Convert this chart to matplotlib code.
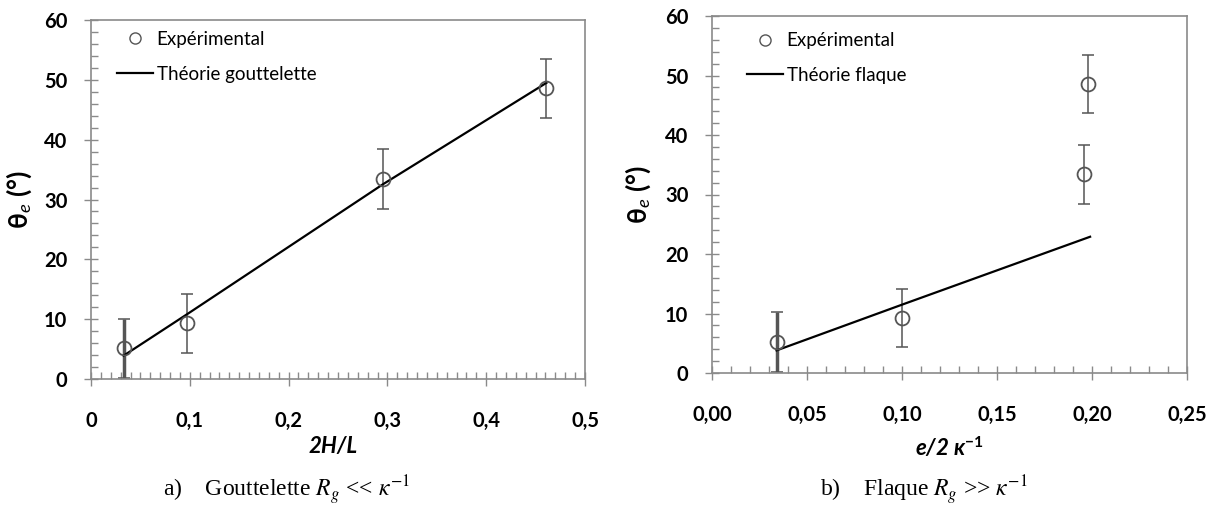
import matplotlib
matplotlib.use("Agg")
import matplotlib.pyplot as plt
from matplotlib.lines import Line2D
from matplotlib.ticker import MultipleLocator, FuncFormatter
import numpy as np

# données a) gouttelette
x_goutte = np.array([0.033, 0.097, 0.296, 0.461])
y_goutte = np.array([5.1, 9.3, 33.4, 48.6])
err_goutte = np.array([5.0, 4.9, 5.0, 4.9])
x_theo_goutte = np.array([0.033, 0.097, 0.296, 0.461])
y_theo_goutte = np.array([3.9, 10.8, 32.6, 49.5])

# données b) flaque
x_flaque = np.array([0.034, 0.100, 0.196, 0.198])
y_flaque = np.array([5.2, 9.3, 33.4, 48.6])
err_flaque = np.array([5.0, 4.9, 5.0, 4.9])
x_theo_flaque = np.array([0.034, 0.101, 0.199])
y_theo_flaque = np.array([3.8, 11.6, 22.9])

plt.rcParams['font.family'] = ['Lato', 'DejaVu Sans']
plt.rcParams['mathtext.fontset'] = 'custom'
plt.rcParams['mathtext.rm'] = 'Lato'
plt.rcParams['mathtext.it'] = 'Lato:italic'
plt.rcParams['mathtext.bf'] = 'Lato:bold'

W, H = 1217, 513
fig = plt.figure(figsize=(W / 100, H / 100), dpi=100)


def px_axes(l, t, r, b):
    return [l / W, 1 - b / H, (r - l) / W, (b - t) / H]


frame = '#8a8a8a'
mk = '#555555'


def style(ax, xmax, xmaj, xfmt):
    ax.set_xlim(0, xmax)
    ax.set_ylim(0, 60)
    ax.xaxis.set_major_locator(MultipleLocator(xmaj))
    ax.xaxis.set_minor_locator(MultipleLocator(0.01))
    ax.yaxis.set_major_locator(MultipleLocator(10))
    ax.yaxis.set_minor_locator(MultipleLocator(2))
    ax.xaxis.set_major_formatter(FuncFormatter(lambda v, p: xfmt.format(v).replace('.', ',')))
    for s in ax.spines.values():
        s.set_color(frame)
        s.set_linewidth(1.2)
    ax.tick_params(which='major', direction='inout', length=10, width=1, color=frame,
                   labelsize=14.5, pad=12)
    ax.tick_params(which='minor', direction='in', length=5, width=1, color=frame)
    ax.tick_params(axis='x', which='major', pad=18)
    for lab in ax.get_xticklabels() + ax.get_yticklabels():
        lab.set_fontweight('bold')


def draw(ax, x, y, err, xt, yt):
    for i in range(len(x)):
        ax.errorbar(x[i], y[i], yerr=err[i], fmt='none', ecolor=mk,
                    elinewidth=2.5 if i == 0 else 1.1, capsize=4, capthick=1.1, zorder=2)
    ax.plot(xt, yt, color='black', lw=1.6, zorder=3)
    ax.plot(x, y, 'o', ms=10, mfc='none', mec=mk, mew=1.3, zorder=4)


def legend(ax, label2, xa, ya):
    h = [Line2D([], [], ls='none', marker='o', ms=8, mfc='none', mec=mk, mew=1),
         Line2D([], [], color='black', lw=1.6)]
    ax.legend(h, ['Expérimental', label2], loc='upper left', bbox_to_anchor=(xa, ya),
              frameon=False, fontsize=13.5, handlelength=1.9, handletextpad=0.2,
              labelspacing=0.95, borderpad=0, borderaxespad=0)


# a)
ax1 = fig.add_axes(px_axes(91, 20, 585, 379))
draw(ax1, x_goutte, y_goutte, err_goutte, x_theo_goutte, y_theo_goutte)
style(ax1, 0.5, 0.1, '{:g}')
legend(ax1, 'Théorie gouttelette', 0.053, 0.97)
ax1.set_ylabel('θ$_e$ (°)', fontsize=19, fontweight='bold')
ax1.yaxis.set_label_coords(-0.115, 0.5)
ax1.set_xlabel('2H/L', fontsize=16, fontweight='bold', style='italic')
ax1.xaxis.set_label_coords(0.49, -0.16)

# b)
ax2 = fig.add_axes(px_axes(712, 16, 1187, 373))
draw(ax2, x_flaque, y_flaque, err_flaque, x_theo_flaque, y_theo_flaque)
style(ax2, 0.25, 0.05, '{:.2f}')
legend(ax2, 'Théorie flaque', 0.074, 0.955)
ax2.set_ylabel('θ$_e$ (°)', fontsize=19, fontweight='bold')
ax2.yaxis.set_label_coords(-0.125, 0.5)
ax2.set_xlabel('e/2 κ$^{\\mathbf{-1}}$', fontsize=16, fontweight='bold', style='italic')
ax2.xaxis.set_label_coords(0.5, -0.175)

# légendes sous les graphes
fig.text(163 / W, 1 - 490 / H, 'a)    Gouttelette $R_g$ << $\\kappa^{-1}$',
         family='Liberation Serif', math_fontfamily='stix', fontsize=17, va='center')
fig.text(820 / W, 1 - 490 / H, 'b)    Flaque $R_g$ >> $\\kappa^{-1}$',
         family='Liberation Serif', math_fontfamily='stix', fontsize=17, va='center')

fig.savefig('out.png', dpi=100)
